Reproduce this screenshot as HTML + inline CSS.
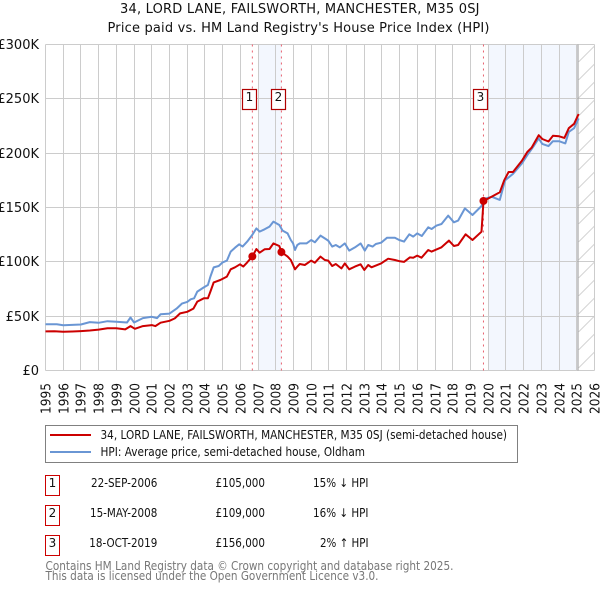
<!DOCTYPE html>
<html>
<head>
<meta charset="utf-8">
<style>
html,body{margin:0;padding:0;background:#fff;}
svg{display:block;font-family:"DejaVu Sans","Liberation Sans",sans-serif;}
</style>
</head>
<body>
<svg id="chart" width="600" height="590" viewBox="0 0 600 590" xmlns="http://www.w3.org/2000/svg">
<defs>
<pattern id="hatch" patternUnits="userSpaceOnUse" width="18" height="18" patternTransform="translate(578.5 44)">
<path d="M-2 20L20 -2" stroke="#d4d4d4" stroke-width="1" fill="none"/>
</pattern>
</defs>
<rect x="0" y="0" width="600" height="590" fill="#fff"/>
<text x="120" y="13" font-size="13" fill="#111" textLength="359.5">34, LORD LANE, FAILSWORTH, MANCHESTER, M35 0SJ</text>
<text x="107.5" y="32" font-size="13" fill="#111" textLength="382">Price paid vs. HM Land Registry's House Price Index (HPI)</text>
<g id="plot-bands"></g>
<rect x="578.5" y="44.5" width="16" height="326" fill="url(#hatch)"/>
<g id="grid"></g>
<line x1="578" y1="44.5" x2="578" y2="370.5" stroke="#a8a8a8" stroke-width="1.2"/>
<g id="sale-lines"></g>
<g id="series"></g>
<g id="sale-markers"></g>
<g id="axis-labels"></g>

<g>
<rect x="242.5" y="89.5" width="14" height="20" fill="#fff" stroke="#b00000" stroke-width="1.2"/>
<text x="249.5" y="101" font-size="12" text-anchor="middle" fill="#111">1</text>
</g>
<g>
<rect x="271.5" y="89.5" width="14" height="20" fill="#fff" stroke="#b00000" stroke-width="1.2"/>
<text x="278.5" y="101" font-size="12" text-anchor="middle" fill="#111">2</text>
</g>
<g>
<rect x="473.5" y="89.5" width="14" height="20" fill="#fff" stroke="#b00000" stroke-width="1.2"/>
<text x="480.5" y="101" font-size="12" text-anchor="middle" fill="#111">3</text>
</g>

<g>
<rect x="45.5" y="425.5" width="472" height="37" fill="#fff" stroke="#808080" stroke-width="1"/>
<line x1="50" y1="435" x2="91" y2="435" stroke="#cc0000" stroke-width="2"/>
<text x="100.5" y="439" font-size="12" fill="#111" textLength="406.5" lengthAdjust="spacingAndGlyphs">34, LORD LANE, FAILSWORTH, MANCHESTER, M35 0SJ (semi-detached house)</text>
<line x1="50" y1="452" x2="91" y2="452" stroke="#6a96d4" stroke-width="2"/>
<text x="100.5" y="456" font-size="12" fill="#111" textLength="264.5" lengthAdjust="spacingAndGlyphs">HPI: Average price, semi-detached house, Oldham</text>
</g>

<g font-size="12" fill="#111">
<g>
<rect x="45.5" y="475.5" width="14" height="20" fill="#fff" stroke="#cc0000" stroke-width="1"/>
<text x="52.5" y="487" text-anchor="middle">1</text>
<text x="91" y="487" textLength="66.3" lengthAdjust="spacingAndGlyphs">22-SEP-2006</text>
<text x="215.5" y="487" textLength="49.5" lengthAdjust="spacingAndGlyphs">£105,000</text>
<text x="313" y="487" textLength="55.5" lengthAdjust="spacingAndGlyphs">15% ↓ HPI</text>
</g>
<g>
<rect x="45.5" y="505.5" width="14" height="20" fill="#fff" stroke="#cc0000" stroke-width="1"/>
<text x="52.5" y="517" text-anchor="middle">2</text>
<text x="90" y="517" textLength="67.3" lengthAdjust="spacingAndGlyphs">15-MAY-2008</text>
<text x="215.5" y="517" textLength="49.5" lengthAdjust="spacingAndGlyphs">£109,000</text>
<text x="313" y="517" textLength="55.5" lengthAdjust="spacingAndGlyphs">16% ↓ HPI</text>
</g>
<g>
<rect x="45.5" y="535.5" width="14" height="20" fill="#fff" stroke="#cc0000" stroke-width="1"/>
<text x="52.5" y="547" text-anchor="middle">3</text>
<text x="89.3" y="547" textLength="68" lengthAdjust="spacingAndGlyphs">18-OCT-2019</text>
<text x="215.5" y="547" textLength="49.5" lengthAdjust="spacingAndGlyphs">£156,000</text>
<text x="320" y="547" textLength="48.5" lengthAdjust="spacingAndGlyphs">2% ↑ HPI</text>
</g>
</g>

<text x="45.5" y="570" font-size="12" fill="#777" textLength="408" lengthAdjust="spacingAndGlyphs">Contains HM Land Registry data © Crown copyright and database right 2025.</text>
<text x="45.5" y="580" font-size="12" fill="#777" textLength="333" lengthAdjust="spacingAndGlyphs">This data is licensed under the Open Government Licence v3.0.</text>

<script>
var yearTicks = [1995,1996,1997,1998,1999,2000,2001,2002,2003,2004,2005,2006,2007,2008,2009,2010,2011,2012,2013,2014,2015,2016,2017,2018,2019,2020,2021,2022,2023,2024,2025,2026];
var priceTicks = [0,50,100,150,200,250,300];
var priceTickLabels = ['£0','£50K','£100K','£150K','£200K','£250K','£300K'];

var hpiYears = [1995,1995.64,1996,1996.5,1997,1997.5,1998,1998.5,1999,1999.6,1999.8,2000,2000.5,2001,2001.3,2001.5,2002,2002.4,2002.7,2003,2003.2,2003.39,2003.57,2003.94,2004.17,2004.31,2004.5,2004.78,2005,2005.24,2005.46,2005.7,2005.94,2006.13,2006.39,2006.67,2006.91,2007.09,2007.37,2007.65,2007.87,2008.2,2008.39,2008.67,2008.85,2008.98,2009.09,2009.22,2009.36,2009.74,2010,2010.21,2010.53,2010.77,2010.96,2011.19,2011.39,2011.62,2011.9,2012.15,2012.47,2012.79,2013.03,2013.22,2013.47,2013.65,2013.95,2014.29,2014.73,2014.97,2015.24,2015.54,2015.76,2015.99,2016.25,2016.61,2016.8,2017.08,2017.36,2017.74,2018.06,2018.3,2018.68,2019.11,2019.62,2019.75,2020.2,2020.65,2020.95,2021.4,2021.9,2022.2,2022.55,2022.85,2023.05,2023.4,2023.65,2024,2024.35,2024.55,2024.85,2025.1];
var hpiValues = [42.6,42.6,41.7,42,42.3,44.5,43.9,45.4,44.8,44.2,48.8,44.2,48.2,49.4,48.2,51.8,52.4,57,61.6,63.1,65.5,66.4,72.6,76.5,78.7,86.4,94.9,96.2,99.5,101.1,109.4,113,116.1,114,118.6,124.7,130.8,127.8,129.9,132.4,137,133.9,128.7,126.2,120.1,117,110.9,115.5,117,117,120.1,118,124.1,121.6,119.5,114,115.5,113.3,117,110.3,113.3,117,110.3,115.5,114,116.4,117.6,122.2,122.2,120.1,118.6,125.3,123.2,126.2,123.8,131.8,130.2,133.3,134.8,142.5,136.4,137.9,149.2,143.1,151.4,158,159.8,157,175,181,190.5,198,206,213.5,208.5,206.5,211,211,209,219.6,223,232];

var paidYears = [1995,1995.5,1996,1996.5,1997,1997.5,1998,1998.5,1999,1999.5,1999.8,2000.05,2000.5,2001,2001.2,2001.5,2002,2002.3,2002.6,2003,2003.35,2003.57,2003.94,2004.17,2004.31,2004.5,2004.87,2005.24,2005.46,2005.7,2005.98,2006.17,2006.39,2006.68,2006.91,2007.09,2007.37,2007.65,2007.87,2008.2,2008.32,2008.67,2008.85,2009.09,2009.22,2009.36,2009.64,2010,2010.21,2010.53,2010.77,2010.96,2011.19,2011.39,2011.71,2011.9,2012.15,2012.47,2012.79,2013,2013.22,2013.41,2013.95,2014.35,2014.73,2015.01,2015.24,2015.57,2015.76,2015.99,2016.23,2016.61,2016.8,2017.36,2017.78,2018.06,2018.3,2018.72,2019.11,2019.62,2019.73,2020.2,2020.65,2020.9,2021.15,2021.4,2021.9,2022.2,2022.45,2022.85,2023.05,2023.4,2023.65,2024,2024.3,2024.55,2024.85,2025.1];
var paidValues = [36,36.2,35.6,35.9,36.3,36.8,37.6,38.8,38.8,37.8,40.9,38.4,40.9,41.8,40.9,44,45.7,47.9,52.5,54,57,63.4,66.4,66.4,72.6,81.1,83.3,86.4,93.1,95,97.7,95.6,99.5,105,111.8,108.4,111.5,111.8,117,114.6,109,104.8,101.7,93.1,95.6,98,97.1,101.1,99.2,104.8,101.7,101.1,96.2,98,94,98.6,93.1,95.6,97.7,92.5,97.1,95,98.6,102.9,101.7,100.5,99.9,104.1,103.8,105.7,103.8,110.9,109.4,113.4,119.5,114.6,115.5,125.3,120.1,127.7,156,160,164,175,182.7,182.7,193,201,205,216.5,213,210.7,216,215.5,214,223,227,236];

var saleYears = [2006.68,2008.32,2019.73];
var salePrices = [105,109,156];

var NS = 'http://www.w3.org/2000/svg';
function xAxis(y){ return 45.5 + (y - 1995) * 17.71; }
function yAxis(v){ return 370.5 - v * 1.0867; }
function crisp(p){ return Math.floor(p) + 0.5; }
function add(parentId, tag, attrs){
  var el = document.createElementNS(NS, tag);
  for (var k in attrs) { el.setAttribute(k, attrs[k]); }
  document.getElementById(parentId).appendChild(el);
  return el;
}
function pathFrom(xs, ys){
  var d = '';
  for (var i = 0; i < xs.length; i++) {
    d += (i ? 'L' : 'M') + xAxis(xs[i]).toFixed(1) + ' ' + yAxis(ys[i]).toFixed(1);
  }
  return d;
}

var band1 = add('plot-bands', 'rect', {x: crisp(xAxis(2007)), y: 44.5, width: xAxis(saleYears[1]) - crisp(xAxis(2007)), height: 326, fill: '#f3f7fe'});


var band2 = add('plot-bands', 'rect', {x: crisp(xAxis(2020)), y: 44.5, width: 578 - crisp(xAxis(2020)), height: 326, fill: '#f3f7fe'});



yearTicks.forEach(function(y){
  var gx = crisp(xAxis(y));
  var line = add('grid', 'line', {x1: gx, x2: gx, y1: 44.5, y2: 370.5, stroke: '#cccccc', 'stroke-width': 1});
  
  
  var label = add('axis-labels', 'text', {transform: 'translate(' + (gx + 5) + ' 414) rotate(-90)', 'font-size': 13, fill: '#111', textLength: 31, lengthAdjust: 'spacingAndGlyphs'});
  label.textContent = String(y);
  
  
});

priceTicks.forEach(function(v, i){
  var gy = crisp(yAxis(v));
  if (v === 0) { gy = 370.5; }
  var line = add('grid', 'line', {x1: 45.5, x2: 594.5, y1: gy, y2: gy, stroke: '#cccccc', 'stroke-width': 1});
  
  
  var label = add('axis-labels', 'text', {x: 39, y: gy + 4.5, 'font-size': 13, fill: '#111', 'text-anchor': 'end'});
  label.textContent = priceTickLabels[i];
  
  
});

saleYears.forEach(function(y){
  var sx = xAxis(y);
  var line = add('sale-lines', 'line', {x1: sx, x2: sx, y1: 44.5, y2: 370.5, stroke: '#e8606e', 'stroke-width': 1, 'stroke-dasharray': '2 4'});
  
  
});

var hpiLine = add('series', 'path', {d: pathFrom(hpiYears, hpiValues), fill: 'none', stroke: '#6a96d4', 'stroke-width': 2, 'stroke-linejoin': 'round'});


var paidLine = add('series', 'path', {d: pathFrom(paidYears, paidValues), fill: 'none', stroke: '#cc0000', 'stroke-width': 2, 'stroke-linejoin': 'round'});



saleYears.forEach(function(y, i){
  var dot = add('sale-markers', 'circle', {cx: xAxis(y), cy: yAxis(salePrices[i]), r: 4, fill: '#cc0000'});
  
  
});
</script>
</svg>
</body>
</html>
